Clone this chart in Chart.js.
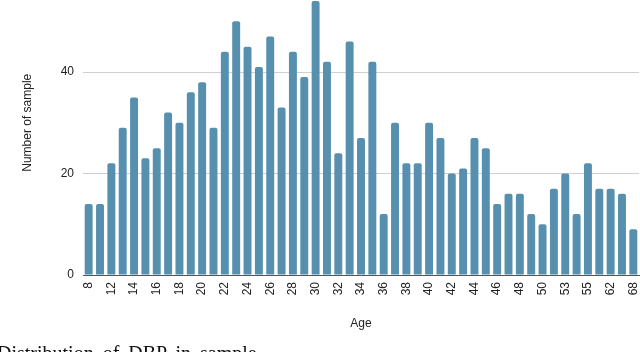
<!DOCTYPE html>
<html>
<head>
<meta charset="utf-8">
<script src="https://cdn.jsdelivr.net/npm/chart.js@4"></script>
<style>
  html, body { margin: 0; padding: 0; background: #fff; overflow: hidden; }
  body { width: 640px; height: 352px; position: relative; }
  #wrap { position: absolute; left: 0; top: -40px; width: 640px; height: 392px; }
  #caption { position: absolute; left: -3px; top: 343px; font-family: "Liberation Serif", "Times New Roman", serif;
             font-size: 20px; line-height: 20px; color: #111; white-space: nowrap; word-spacing: 4px; }
</style>
</head>
<body>
<div id="wrap"><canvas id="c" width="640" height="392"></canvas></div>
<div id="caption">Distribution of DBP in sample</div>
<script>
const ages = ["8","10","12","13","14","15","16","17","18","19","20","21","22","23","24","25","26","27","28","29","30","31","32","33","34","35","36","37","38","39","40","41","42","43","44","45","46","47","48","49","50","52","53","54","55","58","62","65","68"];
const samples = [14,14,22,29,35,23,25,32,30,36,38,29,44,50,45,41,47,33,44,39,54,42,24,46,27,42,12,30,22,22,30,27,20,21,27,25,14,16,16,12,10,17,20,12,22,17,17,16,9];
const yTicks = [0,20,40,60];
const xTitle = "Age";
const yTitle = "Number of sample";

const font = "'Liberation Sans', Arial, sans-serif";

new Chart(document.getElementById('c'), {
  type: 'bar',
  data: {
    labels: ages,
    datasets: [{
      data: samples,
      backgroundColor: '#5790af',
      borderWidth: 0,
      borderRadius: {topLeft: 2, topRight: 2, bottomLeft: 0, bottomRight: 0},
      borderSkipped: 'start',
      categoryPercentage: 1,
      barPercentage: 0.7
    }]
  },
  options: {
    responsive: false,
    animation: false,
    events: [],
    layout: { padding: { top: 10.5, left: 16, right: 1, bottom: 21 } },
    plugins: { legend: { display: false }, tooltip: { enabled: false } },
    scales: {
      x: {
        grid: { display: false, drawTicks: false },
        border: { display: true, color: '#555', width: 1 },
        ticks: {
          autoSkip: false, minRotation: 90, maxRotation: 90, padding: 7,
          color: '#222', font: { family: font, size: 12 },
          callback: function(v, i) { return i % 2 === 0 ? ages[i] : ''; }
        },
        title: { display: true, text: xTitle, color: '#222', font: { family: font, size: 12 }, padding: { top: 0, bottom: 0 } },
        afterFit: function(s) { s.height = 56; s.paddingLeft = 0; s.paddingRight = 0; }
      },
      y: {
        min: 0, max: 60,
        afterBuildTicks: function(s) { s.ticks = yTicks.map(v => ({ value: v })); },
        grid: { color: '#d0d0d0', drawTicks: false, lineWidth: 1 },
        border: { display: false },
        ticks: { padding: 9, color: '#222', font: { family: font, size: 12 } },
        title: { display: true, text: yTitle, color: '#222', font: { family: font, size: 12 }, padding: { top: 4, bottom: 4 } },
        afterFit: function(s) { s.width = 67; s.paddingTop = 0; s.paddingBottom = 0; }
      }
    }
  }
});
</script>
</body>
</html>
